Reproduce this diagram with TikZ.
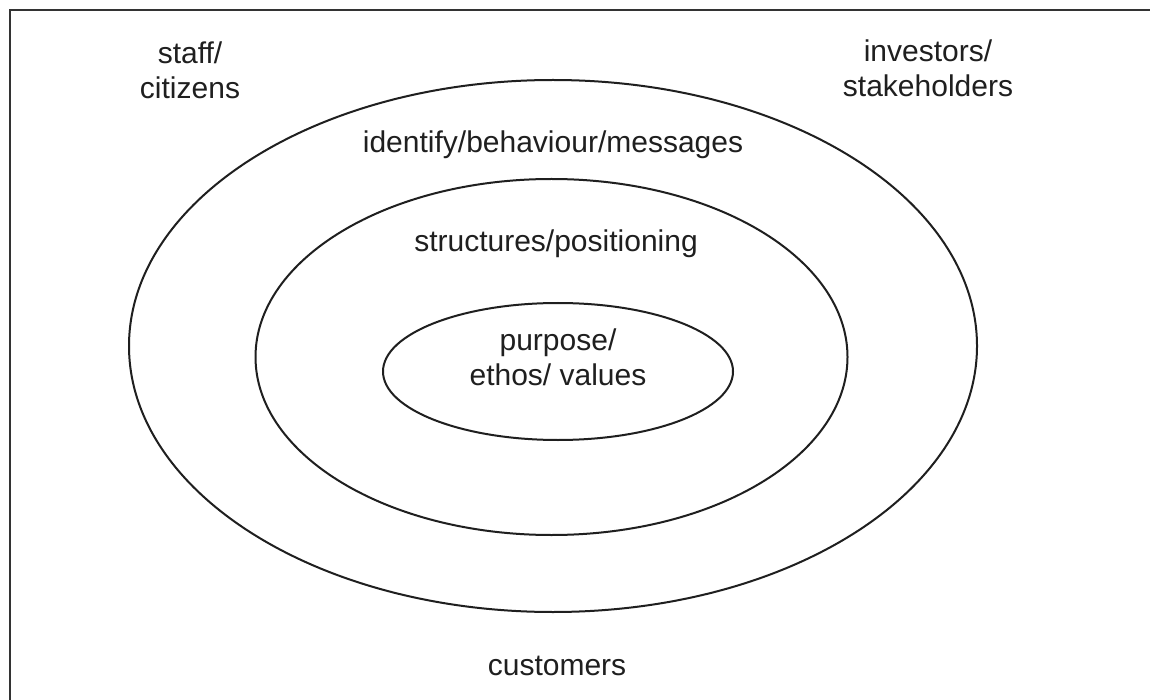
\documentclass[tikz,border=0pt]{standalone}
\usepackage{fontspec}
\setmainfont{Liberation Sans}
\begin{document}
\begin{tikzpicture}[x=1pt,y=-1pt,
  ring/.style={draw=black!88, line width=2pt},
  frameline/.style={draw=black!80, line width=2pt},
  lbl/.style={font=\fontsize{30}{35}\selectfont, align=center, inner sep=0pt, text=black!88}]
\useasboundingbox (0,0) rectangle (1150,700);
\fill[white] (0,0) rectangle (1150,700);
% frame (top and left edges visible)
\coordinate (tr) at (1150,10.5);
\coordinate (tl) at (9.5,10.5);
\coordinate (bl) at (9.5,700);
\draw[frameline] (tr) -- (tl) -- (bl);
% rings
\draw[ring] (553,346) ellipse [x radius=424, y radius=266];
\draw[ring] (551.5,357) ellipse [x radius=296, y radius=178];
\draw[ring] (558,371.5) ellipse [x radius=175, y radius=68.5];
% labels
\node[lbl] (staff) at (190,70) {staff/\\citizens};
\node[lbl] (inv) at (928,68) {investors/\\stakeholders};
\node[lbl, anchor=base] (idb) at (553,153) {identify/behaviour/messages};
\node[lbl, anchor=base] (str) at (556,252) {structures/positioning};
\node[lbl] (pur) at (558,357) {purpose/\\ethos/ values};
\node[lbl, anchor=base] (cus) at (557,675) {customers};
\end{tikzpicture}
\end{document}
